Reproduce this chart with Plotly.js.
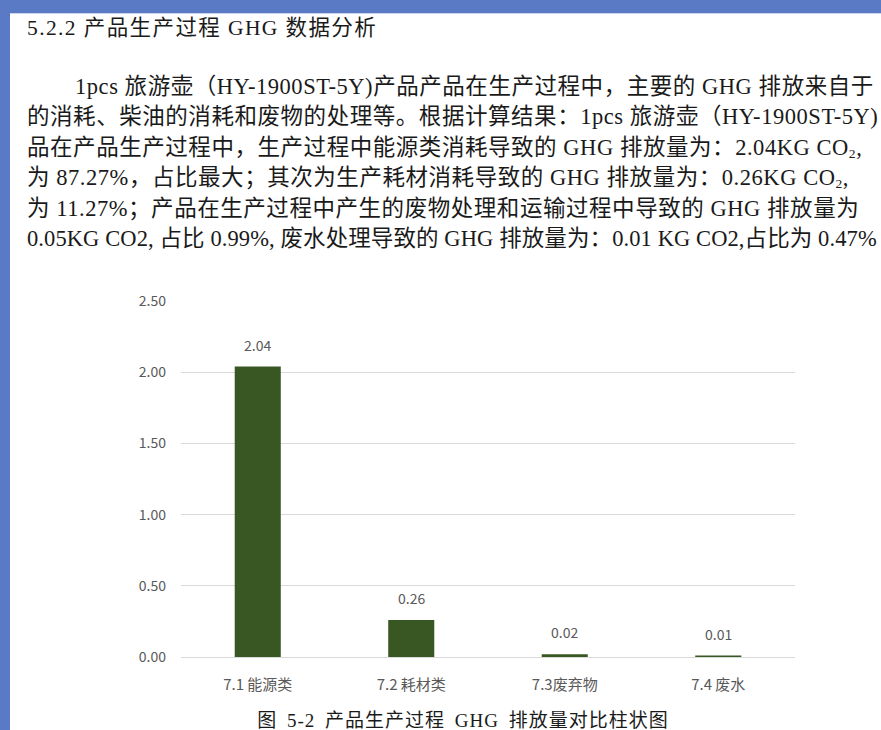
<!DOCTYPE html>
<html><head><meta charset="utf-8">
<script src="https://cdn.plot.ly/plotly-3.0.1.min.js"></script>
<style>
html,body{margin:0;padding:0;width:881px;height:730px;overflow:hidden;background:#5a7ac6;}
#page{position:absolute;left:10px;top:13px;width:871px;height:717px;background:#fff;border-top:1px solid #c8d3ee;}
.t{position:absolute;white-space:nowrap;font-family:"Liberation Serif","Noto Sans CJK SC",serif;color:#1a1a1a;line-height:1;}
.p{font-size:22.5px;letter-spacing:0.55px;}
sub{font-size:0.6em;vertical-align:-0.25em;}
#chart{position:absolute;left:0;top:0;width:881px;height:730px;}
#cap{position:absolute;left:0;width:926px;text-align:center;top:705px;font-size:19px;letter-spacing:1px;word-spacing:4px;font-family:"Liberation Serif","Noto Sans CJK SC",serif;color:#1a1a1a;white-space:nowrap;}
</style></head>
<body>
<div id="page"></div>
<div class="t" style="left:27px;top:18px;font-size:21.5px;letter-spacing:1.4px;">5.2.2 产品生产过程 GHG 数据分析</div>
<div class="t p" style="left:75px;top:76px;">1pcs 旅游壶（HY-1900ST-5Y)产品产品在生产过程中，主要的 GHG 排放来自于</div>
<div class="t p" style="left:27px;top:106px;">的消耗、柴油的消耗和废物的处理等。根据计算结果：1pcs 旅游壶（HY-1900ST-5Y)</div>
<div class="t p" style="left:27px;top:137px;">品在产品生产过程中，生产过程中能源类消耗导致的 GHG 排放量为：2.04KG CO<sub>2</sub>,</div>
<div class="t p" style="left:27px;top:167px;">为 87.27%，占比最大；其次为生产耗材消耗导致的 GHG 排放量为：0.26KG CO<sub>2</sub>,</div>
<div class="t p" style="left:27px;top:198px;">为 11.27%；产品在生产过程中产生的废物处理和运输过程中导致的 GHG 排放量为</div>
<div class="t p" style="left:27px;top:228px;letter-spacing:0.1px;">0.05KG CO2, 占比 0.99%, 废水处理导致的 GHG 排放量为：0.01 KG CO2,占比为 0.47%</div>
<div id="chart"></div>
<div id="cap">图 5-2 产品生产过程 GHG 排放量对比柱状图</div>
<script>
const categories = ["7.1 能源类", "7.2 耗材类", "7.3废弃物", "7.4 废水"];
const values = [2.04, 0.26, 0.02, 0.01];
const yTicks = [0, 0.5, 1.0, 1.5, 2.0, 2.5];

const labelFont = {family: '"Noto Sans CJK SC", sans-serif', size: 14, color: '#595959'};
const annotations = categories.map((c, i) => ({
  x: c, y: values[i], xref: 'x', yref: 'y',
  text: values[i].toFixed(2), showarrow: false,
  yanchor: 'middle', yshift: 22, font: labelFont
}));

Plotly.newPlot('chart', [{
  type: 'bar', x: categories, y: values,
  marker: {color: '#385723', line: {width: 0}},
  width: 0.3, hoverinfo: 'none'
}], {
  width: 881, height: 730,
  margin: {l: 181, r: 86, t: 301, b: 73, pad: 0},
  paper_bgcolor: 'rgba(0,0,0,0)', plot_bgcolor: 'rgba(0,0,0,0)',
  showlegend: false,
  xaxis: {
    type: 'category', showgrid: false, zeroline: false,
    showline: true, linecolor: '#d9d9d9', linewidth: 1,
    ticks: '', tickfont: {family: '"Noto Sans CJK SC", sans-serif', size: 15, color: '#595959'},
    ticklabelstandoff: 14
  },
  yaxis: {
    range: [0, 2.5], tickvals: yTicks, tickformat: '.2f',
    showgrid: true, gridcolor: '#d9d9d9', gridwidth: 1,
    zeroline: false, showline: false, ticks: '',
    tickfont: labelFont, ticklabelstandoff: 14
  },
  annotations: annotations
}, {staticPlot: true, displayModeBar: false});
</script>
</body></html>
